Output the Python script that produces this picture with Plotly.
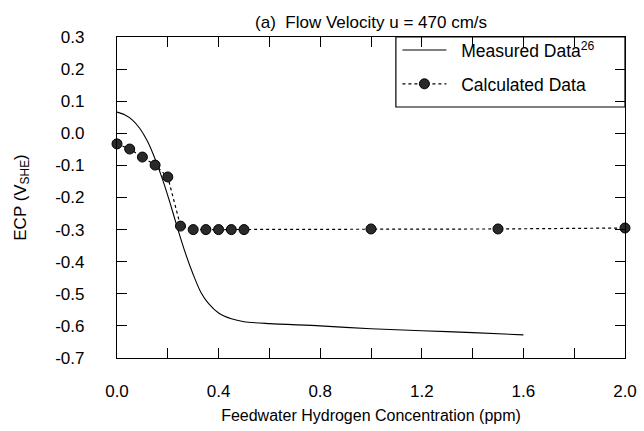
import plotly.graph_objects as go

# Measured data (solid curve)
meas_x = [0.0, 0.03, 0.06, 0.09, 0.12, 0.15, 0.18, 0.21, 0.24, 0.27, 0.30, 0.33,
          0.36, 0.40, 0.45, 0.50, 0.60, 0.80, 1.00, 1.20, 1.40, 1.60]
meas_y = [0.066, 0.058, 0.042, 0.015, -0.025, -0.08, -0.145, -0.22, -0.30, -0.375,
          -0.44, -0.495, -0.53, -0.56, -0.578, -0.587, -0.593, -0.600, -0.609,
          -0.615, -0.621, -0.628]

# Calculated data (dotted with markers)
calc_x = [0.0, 0.05, 0.10, 0.15, 0.20, 0.25, 0.30, 0.35, 0.40, 0.45, 0.50, 1.0, 1.5, 2.0]
calc_y = [-0.033, -0.049, -0.074, -0.099, -0.136, -0.289, -0.300, -0.300, -0.300,
          -0.300, -0.300, -0.298, -0.298, -0.295]

x_tickvals = [0.0, 0.2, 0.4, 0.6, 0.8, 1.0, 1.2, 1.4, 1.6, 1.8, 2.0]
x_ticktext = ["0.0", "", "0.4", "", "0.8", "", "1.2", "", "1.6", "", "2.0"]
y_tickvals = [0.3, 0.2, 0.1, 0.0, -0.1, -0.2, -0.3, -0.4, -0.5, -0.6, -0.7]
y_ticktext = ["0.3", "0.2", "0.1", "0.0", "-0.1", "-0.2", "-0.3", "-0.4", "-0.5", "-0.6", "-0.7"]

FONT = "Liberation Sans, Arial, sans-serif"
NB = "\u00a0\u00a0"

fig = go.Figure()
fig.add_trace(go.Scatter(
    x=meas_x, y=meas_y, mode="lines", name=NB + "Measured Data<sup>26</sup>",
    legendgroup="m",
    line=dict(color="black", width=1.1, shape="spline", smoothing=0.8),
))
fig.add_trace(go.Scatter(
    x=calc_x, y=calc_y, mode="lines+markers", name=NB + "Calculated Data",
    legendgroup="c",
    line=dict(color="black", width=1.2, dash="dot"),
    marker=dict(size=10, color="#2a2a2a", line=dict(color="black", width=1)),
    cliponaxis=False,
))

axis_common = dict(
    showline=True, linecolor="black", linewidth=1.3, mirror="ticks",
    ticks="inside", ticklen=10, tickwidth=1, tickcolor="black",
    showgrid=False, zeroline=False,
    tickfont=dict(family=FONT, size=17, color="black"),
)

# legend frame (decoration, in axis-domain fractions)
fig.add_shape(type="rect", xref="x domain", yref="y domain",
              x0=0.549, x1=1.0, y0=0.782, y1=1.0,
              line=dict(color="black", width=1.2), fillcolor="white", layer="below")

fig.update_layout(
    width=644, height=431,
    margin=dict(l=117, r=19, t=37, b=73, autoexpand=False),
    paper_bgcolor="white", plot_bgcolor="white",
    font=dict(family=FONT, color="black"),
    title=dict(text="(a)  Flow Velocity u = 470 cm/s", x=0.5762, xanchor="center",
               y=0.950, yanchor="middle", font=dict(family=FONT, size=17, color="black")),
    xaxis=dict(range=[0, 2.0], tickmode="array", tickvals=x_tickvals, ticktext=x_ticktext,
               ticklabelstandoff=17, automargin=False,
               title=dict(text="Feedwater Hydrogen Concentration (ppm)", standoff=10,
                          font=dict(family=FONT, size=16, color="black")),
               **axis_common),
    yaxis=dict(range=[-0.7, 0.3], tickmode="array", tickvals=y_tickvals, ticktext=y_ticktext,
               ticklabelstandoff=28, automargin=False,
               title=dict(text="ECP (V<sub>SHE</sub>)", standoff=24,
                          font=dict(family=FONT, size=17, color="black")),
               **axis_common),
    legend=dict(x=0.552, xanchor="left", y=1.015, yanchor="top",
                borderwidth=0, bgcolor="rgba(0,0,0,0)",
                font=dict(family=FONT, size=17.5, color="black"),
                itemwidth=44, traceorder="grouped", tracegroupgap=8),
    showlegend=True,
)

fig.write_html("out.html", config={"displayModeBar": False},
               post_script="document.body.style.margin='0';document.body.style.padding='0';")
